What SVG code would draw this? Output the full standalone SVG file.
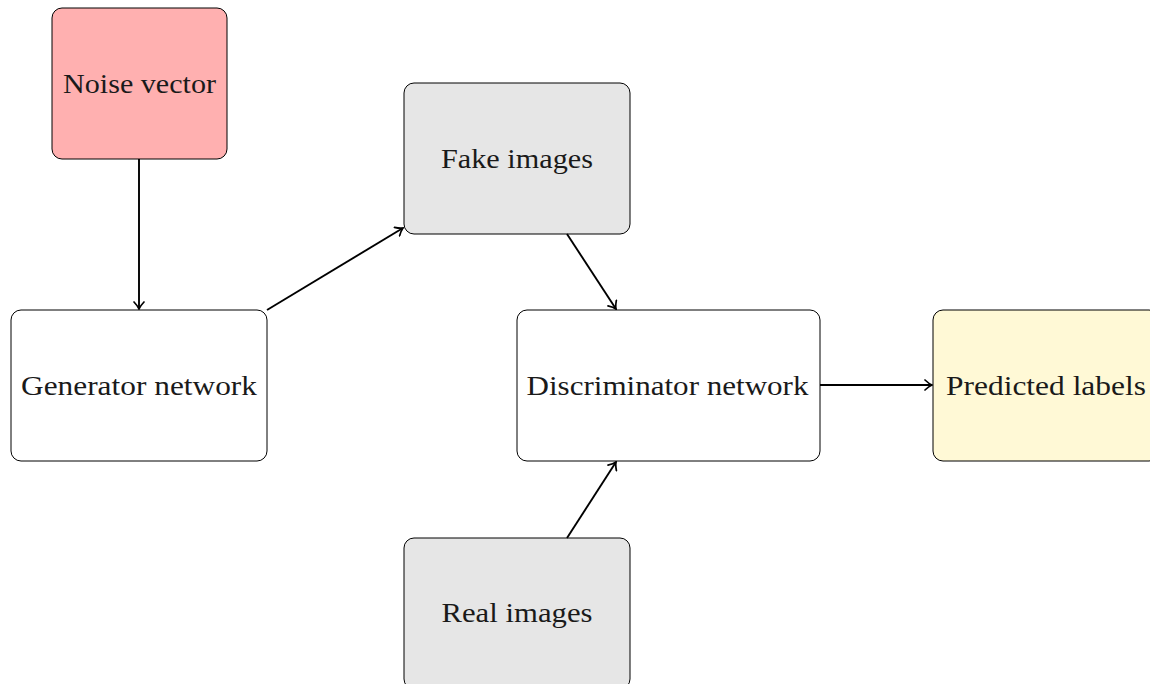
<svg xmlns="http://www.w3.org/2000/svg" width="1150" height="684" viewBox="0 0 1150 684">
  <style>
    .box { stroke: #000; stroke-width: 1; }
    .plain { fill: #ffffff; }
    .noise { fill: #ffb0b0; }
    .img { fill: #e6e6e6; }
    .out { fill: #fff9d6; }
    .lbl { font-family: "Liberation Serif", "DejaVu Serif", serif; font-size: 27px; fill: #1a1a1a; text-anchor: middle; }
    .edge { stroke: #000; stroke-width: 1.9; fill: none; marker-end: url(#tip); }
  </style>
  <defs>
    <marker id="tip" viewBox="-7 -6 9 12" refX="1" refY="0" markerWidth="9" markerHeight="12" markerUnits="userSpaceOnUse" orient="auto">
      <path d="M -6 -5 Q -2 -1.2 1 0 Q -2 1.2 -6 5" fill="none" stroke="#000" stroke-width="1.7" stroke-linecap="round"/>
    </marker>
  </defs>
  <rect width="1150" height="684" fill="#ffffff"/>

  <g id="noise-vector">
    <rect class="box noise" x="52" y="8" width="175" height="151" rx="10"/>
    <text class="lbl" x="139.5" y="93" textLength="153" lengthAdjust="spacingAndGlyphs">Noise vector</text>
  </g>
  <g id="generator-network">
    <rect class="box plain" x="11" y="310" width="256" height="151" rx="10"/>
    <text class="lbl" x="139" y="395" textLength="236" lengthAdjust="spacingAndGlyphs">Generator network</text>
  </g>
  <g id="fake-images">
    <rect class="box img" x="404" y="83" width="226" height="151" rx="10"/>
    <text class="lbl" x="517" y="168" textLength="152" lengthAdjust="spacingAndGlyphs">Fake images</text>
  </g>
  <g id="discriminator-network">
    <rect class="box plain" x="517" y="310" width="303" height="151" rx="10"/>
    <text class="lbl" x="667.5" y="395" textLength="282" lengthAdjust="spacingAndGlyphs">Discriminator network</text>
  </g>
  <g id="predicted-labels">
    <rect class="box out" x="933" y="310" width="226" height="151" rx="10"/>
    <text class="lbl" x="1046" y="395" textLength="200" lengthAdjust="spacingAndGlyphs">Predicted labels</text>
  </g>
  <g id="real-images">
    <rect class="box img" x="404" y="538" width="226" height="151" rx="10"/>
    <text class="lbl" x="517" y="622" textLength="151" lengthAdjust="spacingAndGlyphs">Real images</text>
  </g>

  <g id="connectors">
    <line class="edge" x1="139" y1="159" x2="139" y2="309"/>
    <line class="edge" x1="267" y1="310" x2="403" y2="228"/>
    <line class="edge" x1="567" y1="234" x2="616" y2="309"/>
    <line class="edge" x1="567" y1="538" x2="616" y2="462"/>
    <line class="edge" x1="820" y1="385" x2="932" y2="385"/>
  </g>
</svg>
